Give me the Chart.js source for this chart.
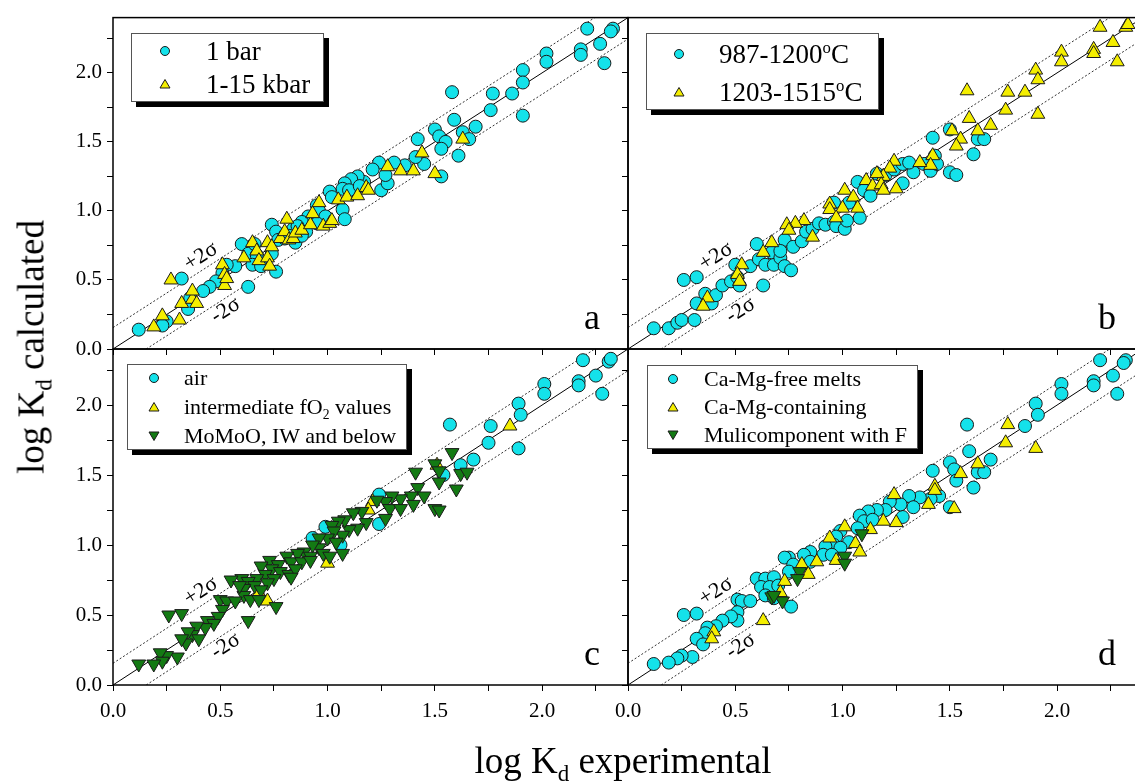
<!DOCTYPE html>
<html>
<head>
<meta charset="utf-8">
<script src="https://cdn.jsdelivr.net/npm/chart.js@4.4.1/dist/chart.umd.min.js"></script>
<style>
html, body { margin: 0; padding: 0; background: #fff; overflow: hidden; width: 1135px; height: 783px; }
#wrap { position: relative; width: 1160px; height: 783px; font-family: 'Liberation Serif', 'Times New Roman', serif; color: #000; }
canvas { position: absolute; left: 0; top: 0; }
.legend { position: absolute; background: #fff; border: 1px solid #555; box-shadow: 5px 5px 0 #000; }
.legend .row { position: absolute; white-space: nowrap; line-height: 30px; height: 30px; }
.legend svg { position: absolute; }
.title { position: absolute; white-space: nowrap; font-size: 37px; line-height: 37px; }
sub, sup { font-size: 62%; line-height: 0; }
</style>
</head>
<body>
<div id="wrap">
  <canvas id="pa" width="1160" height="783"></canvas>
  <canvas id="pb" width="1160" height="783"></canvas>
  <canvas id="pc" width="1160" height="783"></canvas>
  <canvas id="pd" width="1160" height="783"></canvas>
  <div class="title" id="ytitle" style="left:31px; top:347px; transform: translate(-50%,-50%) rotate(-90deg);">log K<sub>d</sub> calculated</div>
  <div class="title" id="xtitle" style="left:623px; top:742px; transform: translateX(-50%);">log K<sub>d</sub> experimental</div>
</div>
<script>
// panel a: pressure
const aBar1 = [[2.21,2.32],[2.33,2.32],[2.32,2.30],[2.27,2.21],[2.18,2.17],[2.18,2.13],[2.29,2.07],[2.02,2.14],[2.02,2.08],[1.91,2.02],[1.91,1.93],[1.86,1.85],[1.91,1.69],[1.58,1.86],[1.77,1.85],[1.76,1.73],[1.59,1.66],[1.69,1.61],[1.63,1.57],[1.66,1.52],[1.61,1.40],[1.50,1.59],[1.52,1.54],[1.55,1.50],[1.53,1.45],[1.42,1.52],[1.53,1.25],[1.45,1.34],[1.41,1.39],[1.36,1.33],[1.31,1.35],[1.24,1.35],[1.21,1.30],[1.25,1.15],[1.28,1.20],[1.27,1.26],[1.17,1.21],[1.14,1.25],[1.11,1.23],[1.08,1.20],[1.07,1.16],[1.10,1.15],[1.15,1.18],[1.01,1.14],[1.02,1.10],[0.95,1.04],[0.96,1.00],[0.99,0.96],[1.07,1.01],[1.08,0.94],[0.91,0.96],[0.88,0.92],[0.95,0.91],[0.74,0.90],[0.76,0.85],[0.77,0.79],[0.74,0.69],[0.76,0.56],[0.60,0.76],[0.63,0.69],[0.66,0.76],[0.67,0.68],[0.65,0.61],[0.69,0.60],[0.63,0.45],[0.57,0.60],[0.53,0.61],[0.51,0.55],[0.48,0.49],[0.45,0.45],[0.42,0.42],[0.36,0.37],[0.35,0.29],[0.32,0.51],[0.25,0.20],[0.23,0.17],[0.12,0.14],[0.84,0.87],[0.86,0.89],[0.82,0.82],[0.90,0.85],[0.80,0.80],[0.85,0.77],[0.88,0.82]];
const aKbar = [[0.27,0.50],[0.19,0.16],[0.23,0.24],[0.31,0.21],[0.32,0.33],[0.37,0.36],[0.37,0.42],[0.39,0.33],[0.51,0.61],[0.52,0.54],[0.52,0.46],[0.53,0.51],[0.61,0.66],[0.65,0.77],[0.67,0.71],[0.68,0.64],[0.72,0.66],[0.72,0.77],[0.73,0.60],[0.74,0.74],[0.78,0.80],[0.80,0.85],[0.81,0.94],[0.82,0.79],[0.84,0.80],[0.85,0.84],[0.88,0.86],[0.92,0.90],[0.93,0.98],[0.96,1.06],[0.98,0.89],[1.01,0.91],[1.02,0.93],[1.05,1.08],[1.09,1.10],[1.14,1.11],[1.18,1.17],[1.19,1.15],[1.28,1.32],[1.34,1.29],[1.40,1.29],[1.44,1.42],[1.50,1.27],[1.63,1.52]];

// panel b: temperature
const bLowT = [[0.12,0.15],[0.19,0.15],[0.23,0.19],[0.25,0.21],[0.31,0.21],[0.26,0.50],[0.32,0.52],[0.32,0.33],[0.36,0.40],[0.39,0.33],[0.41,0.39],[0.44,0.46],[0.48,0.49],[0.51,0.52],[0.52,0.46],[0.50,0.61],[0.57,0.60],[0.63,0.46],[0.60,0.76],[0.61,0.65],[0.64,0.61],[0.68,0.61],[0.67,0.70],[0.71,0.66],[0.73,0.60],[0.76,0.57],[0.73,0.79],[0.71,0.71],[0.77,0.74],[0.81,0.78],[0.83,0.85],[0.86,0.87],[0.89,0.91],[0.92,0.90],[0.96,0.92],[0.97,0.89],[1.01,0.87],[1.02,0.93],[0.96,1.06],[1.03,1.06],[1.08,0.95],[1.07,1.21],[1.10,1.15],[1.13,1.11],[1.16,1.27],[1.20,1.26],[1.24,1.30],[1.28,1.34],[1.28,1.20],[1.33,1.28],[1.31,1.35],[1.38,1.34],[1.41,1.29],[1.43,1.40],[1.44,1.34],[1.42,1.53],[1.50,1.59],[1.50,1.28],[1.53,1.26],[1.61,1.41],[1.63,1.52],[1.66,1.52]];
const bHighT = [[2.20,2.33],[2.32,2.33],[2.33,2.35],[2.26,2.22],[2.17,2.17],[2.17,2.14],[2.28,2.08],[2.02,2.15],[2.02,2.08],[1.90,2.02],[1.91,1.95],[1.85,1.86],[1.77,1.86],[1.76,1.73],[1.91,1.70],[1.58,1.87],[1.59,1.67],[1.69,1.62],[1.63,1.58],[1.51,1.58],[1.55,1.52],[1.53,1.47],[1.42,1.40],[1.41,1.33],[1.36,1.35],[1.24,1.36],[1.22,1.31],[1.19,1.25],[1.16,1.27],[1.11,1.22],[1.14,1.18],[1.18,1.19],[1.19,1.15],[1.25,1.16],[1.01,1.15],[1.05,1.10],[1.07,1.02],[1.00,1.02],[0.94,1.05],[0.94,1.01],[0.97,0.95],[0.82,0.93],[0.78,0.91],[0.74,0.90],[0.75,0.86],[0.86,0.81],[0.67,0.77],[0.63,0.70],[0.53,0.61],[0.51,0.54],[0.52,0.49],[0.37,0.37],[0.35,0.31]];

// panel c: oxygen fugacity
const cAir = [[2.19,2.32],[2.31,2.31],[2.32,2.33],[2.25,2.21],[2.17,2.17],[2.17,2.14],[2.28,2.08],[2.01,2.15],[2.01,2.08],[1.89,2.01],[1.90,1.93],[1.76,1.85],[1.75,1.73],[1.89,1.69],[1.57,1.86],[1.68,1.61],[1.62,1.57],[1.54,1.50],[1.24,1.36],[1.24,1.15],[0.99,1.13],[1.06,1.00],[0.93,1.05]];
const cInter = [[1.85,1.85],[1.21,1.31],[1.19,1.25],[1.00,0.87],[0.72,0.60],[0.68,0.66],[1.51,1.57]];
const cReduced = [[1.58,1.66],[1.50,1.58],[1.52,1.53],[1.41,1.52],[1.62,1.51],[1.65,1.52],[1.52,1.45],[1.60,1.40],[1.42,1.41],[1.45,1.35],[1.39,1.35],[1.40,1.29],[1.34,1.33],[1.30,1.35],[1.27,1.31],[1.29,1.26],[1.34,1.26],[1.50,1.26],[1.52,1.25],[1.27,1.19],[1.23,1.32],[1.16,1.24],[1.12,1.23],[1.18,1.16],[1.14,1.12],[1.10,1.11],[1.08,1.18],[1.05,1.17],[1.07,1.07],[1.02,1.14],[1.03,1.10],[1.00,1.05],[1.04,1.02],[0.96,1.05],[0.96,0.98],[0.93,1.00],[0.89,0.95],[0.92,0.92],[0.98,0.94],[1.01,0.92],[1.07,0.94],[0.86,0.94],[0.81,0.92],[0.83,0.88],[0.88,0.88],[0.92,0.89],[0.73,0.89],[0.77,0.86],[0.74,0.83],[0.78,0.81],[0.82,0.79],[0.85,0.83],[0.69,0.85],[0.71,0.79],[0.67,0.76],[0.75,0.76],[0.83,0.77],[0.60,0.76],[0.63,0.74],[0.66,0.71],[0.72,0.73],[0.69,0.68],[0.61,0.69],[0.61,0.64],[0.64,0.61],[0.68,0.61],[0.76,0.56],[0.50,0.61],[0.53,0.60],[0.57,0.60],[0.51,0.54],[0.49,0.49],[0.44,0.46],[0.47,0.44],[0.63,0.46],[0.43,0.41],[0.39,0.42],[0.37,0.36],[0.40,0.33],[0.35,0.38],[0.34,0.30],[0.32,0.33],[0.26,0.50],[0.32,0.51],[0.30,0.20],[0.25,0.21],[0.22,0.23],[0.23,0.17],[0.19,0.15],[0.12,0.15],[0.55,0.75],[0.59,0.71]];

// panel d: melt composition
const dFree = [[2.20,2.32],[2.32,2.32],[2.31,2.30],[2.26,2.21],[2.17,2.17],[2.17,2.14],[2.28,2.08],[2.02,2.15],[2.02,2.08],[1.90,2.01],[1.91,1.93],[1.85,1.85],[1.58,1.86],[1.59,1.67],[1.69,1.61],[1.63,1.52],[1.66,1.52],[1.61,1.41],[1.50,1.59],[1.52,1.54],[1.53,1.46],[1.42,1.53],[1.50,1.27],[1.45,1.35],[1.41,1.33],[1.36,1.34],[1.31,1.35],[1.33,1.27],[1.28,1.20],[1.27,1.29],[1.22,1.31],[1.20,1.25],[1.16,1.25],[1.12,1.24],[1.08,1.21],[1.10,1.17],[1.14,1.18],[1.07,1.12],[0.99,1.10],[1.03,1.02],[0.97,1.06],[0.96,1.00],[0.92,0.99],[0.91,0.93],[0.99,0.98],[0.95,0.93],[0.85,0.95],[0.82,0.93],[0.75,0.91],[0.73,0.91],[0.77,0.86],[0.75,0.81],[0.85,0.88],[0.60,0.76],[0.64,0.76],[0.68,0.77],[0.62,0.70],[0.66,0.70],[0.70,0.71],[0.64,0.64],[0.68,0.62],[0.76,0.56],[0.51,0.61],[0.53,0.60],[0.57,0.60],[0.51,0.52],[0.51,0.46],[0.48,0.49],[0.44,0.46],[0.41,0.42],[0.37,0.41],[0.36,0.37],[0.32,0.33],[0.35,0.29],[0.26,0.50],[0.32,0.51],[0.30,0.20],[0.25,0.21],[0.23,0.19],[0.19,0.16],[0.12,0.15]];
const dCaMg = [[1.77,1.86],[1.76,1.73],[1.90,1.69],[1.63,1.58],[1.55,1.51],[1.43,1.42],[1.43,1.39],[1.40,1.29],[1.52,1.26],[1.24,1.36],[1.25,1.16],[1.19,1.17],[1.13,1.11],[1.01,1.13],[0.94,1.05],[1.06,1.01],[1.08,0.95],[0.97,0.89],[0.88,0.88],[0.81,0.86],[0.84,0.79],[0.73,0.74],[0.71,0.66],[0.63,0.46],[0.40,0.38],[0.39,0.33]];
const dMultiF = [[1.09,1.08],[1.01,0.92],[1.01,0.87],[0.80,0.81],[0.79,0.76],[0.67,0.63],[0.72,0.60],[0.68,0.64]];

// axes and reference lines
const axisMax = 2.4;
const tickStep = 0.25;
const twoSigma = 0.155;
const sigmaLabels = [{text: '+2σ', x: 0.41, y: 0.67}, {text: '-2σ', x: 0.525, y: 0.28}];

const CYAN = '#14e2ea', YELLOW = '#f4ee00', GREEN = '#137a13', EDGE = '#1a1a1a';
const W = 1160, H = 783, YW = 60, XH = 45;

function toXY(arr) { return arr.map(p => ({x: p[0], y: p[1]})); }

function refLines() {
  const s = twoSigma, m = axisMax;
  const base = {type: 'scatter', showLine: true, pointRadius: 0, borderWidth: 1, order: 10, fill: false};
  return [
    Object.assign({}, base, {data: [{x: 0, y: 0}, {x: m, y: m}], borderColor: '#000'}),
    Object.assign({}, base, {data: [{x: 0, y: s}, {x: m - s, y: m}], borderColor: '#333', borderDash: [2, 2]}),
    Object.assign({}, base, {data: [{x: s, y: 0}, {x: m, y: m - s}], borderColor: '#333', borderDash: [2, 2]})
  ];
}

function series(arr, kind) {
  const st = {
    circle: {pointStyle: 'circle', pointRadius: 6.5, pointRotation: 0, backgroundColor: CYAN, order: 3},
    up: {pointStyle: 'triangle', pointRadius: 8, pointRotation: 0, backgroundColor: YELLOW, order: 2},
    down: {pointStyle: 'triangle', pointRadius: 8, pointRotation: 180, backgroundColor: GREEN, order: 1}
  }[kind];
  return Object.assign({type: 'scatter', data: toXY(arr), borderColor: EDGE, borderWidth: 1, pointHoverRadius: st.pointRadius}, st);
}

const panelDecor = {
  id: 'panelDecor',
  afterDatasetsDraw(chart, args, o) {
    const {ctx, chartArea: a} = chart;
    const x = chart.scales.x, y = chart.scales.y;
    ctx.save();
    ctx.strokeStyle = '#000';
    ctx.lineWidth = 1.5;
    ctx.strokeRect(a.left, a.top, a.right - a.left, a.bottom - a.top);
    const ang = Math.atan2(y.getPixelForValue(0) - y.getPixelForValue(1), x.getPixelForValue(1) - x.getPixelForValue(0));
    ctx.fillStyle = '#000';
    ctx.font = '22px "Liberation Serif"';
    ctx.textAlign = 'center';
    ctx.textBaseline = 'middle';
    sigmaLabels.forEach(l => {
      ctx.save();
      ctx.translate(x.getPixelForValue(l.x), y.getPixelForValue(l.y));
      ctx.rotate(-ang);
      ctx.fillText(l.text, 0, 0);
      ctx.restore();
    });
    ctx.font = '36px "Liberation Serif"';
    ctx.textBaseline = 'alphabetic';
    ctx.fillText(o.letter, a.right - 36, a.bottom - 20);
    ctx.restore();
  }
};

function labelCb(show) {
  return function(v) {
    if (!show) return '';
    return Math.abs(v * 2 - Math.round(v * 2)) < 1e-6 ? v.toFixed(1) : '';
  };
}

function axis(showLabels, isX) {
  return {
    type: 'linear', min: 0, max: axisMax,
    grid: {drawOnChartArea: false, drawTicks: true, tickLength: 6, color: '#000', lineWidth: 1},
    border: {display: false},
    ticks: {stepSize: tickStep, includeBounds: false, autoSkip: false, maxRotation: 0, color: '#000',
      padding: isX ? 8 : 5, font: {family: 'Liberation Serif', size: 21}, callback: labelCb(showLabels)},
    afterFit(s) { if (isX) s.height = XH; else s.width = YW; }
  };
}

function makePanel(id, area, datasets, letter, showX, showY) {
  new Chart(document.getElementById(id), {
    type: 'scatter',
    data: {datasets: refLines().concat(datasets)},
    options: {
      responsive: false, animation: false, events: [],
      layout: {autoPadding: false, padding: {left: area.left - YW, top: area.top, right: W - area.right, bottom: H - area.bottom - XH}},
      plugins: {legend: {display: false}, tooltip: {enabled: false}, panelDecor: {letter: letter}},
      scales: {x: axis(showX, true), y: axis(showY, false)}
    },
    plugins: [panelDecor]
  });
}

const L = 113, M = 628, R = 1143, T = 13, MID = 349, B = 685;
makePanel('pa', {left: L, right: M, top: T, bottom: MID}, [series(aBar1, 'circle'), series(aKbar, 'up')], 'a', false, true);
makePanel('pb', {left: M, right: R, top: T, bottom: MID}, [series(bLowT, 'circle'), series(bHighT, 'up')], 'b', false, false);
makePanel('pc', {left: L, right: M, top: MID, bottom: B}, [series(cAir, 'circle'), series(cInter, 'up'), series(cReduced, 'down')], 'c', true, true);
makePanel('pd', {left: M, right: R, top: MID, bottom: B}, [series(dFree, 'circle'), series(dCaMg, 'up'), series(dMultiF, 'down')], 'd', true, false);

// legends (HTML text with small svg markers)
const legendDefs = [
  {box: [131, 33, 191, 67], font: 27, mx: 33, tx: 74, rows: [[17, 'circle', '1 bar'], [50, 'up', '1-15 kbar']]},
  {box: [646, 33, 231, 75], font: 27, mx: 32, tx: 72, rows: [[20, 'circle', '987-1200<sup>o</sup>C'], [58, 'up', '1203-1515<sup>o</sup>C']]},
  {box: [127, 364, 278, 84], font: 22, mx: 26, tx: 56, rows: [[13, 'circle', 'air'], [42, 'up', 'intermediate fO<sub>2</sub> values'], [71, 'down', 'MoMoO, IW and below']]},
  {box: [647, 365, 269, 82], font: 22, mx: 25, tx: 56, rows: [[13, 'circle', 'Ca-Mg-free melts'], [41, 'up', 'Ca-Mg-containing'], [69, 'down', 'Mulicomponent with F']]}
];
function markerSvg(kind) {
  if (kind === 'circle') return '<circle cx="6" cy="6" r="4.5" fill="' + CYAN + '" stroke="' + EDGE + '" stroke-width="1"/>';
  if (kind === 'up') return '<polygon points="6,1.5 11,10 1,10" fill="' + YELLOW + '" stroke="' + EDGE + '" stroke-width="1"/>';
  return '<polygon points="1,2 11,2 6,10.5" fill="' + GREEN + '" stroke="' + EDGE + '" stroke-width="1"/>';
}
const wrap = document.getElementById('wrap');
legendDefs.forEach(d => {
  const box = document.createElement('div');
  box.className = 'legend';
  box.style.cssText = 'left:' + d.box[0] + 'px;top:' + d.box[1] + 'px;width:' + d.box[2] + 'px;height:' + d.box[3] + 'px;font-size:' + d.font + 'px;';
  d.rows.forEach(r => {
    const svg = '<svg width="12" height="12" style="left:' + (d.mx - 6) + 'px;top:' + (r[0] - 6) + 'px">' + markerSvg(r[1]) + '</svg>';
    box.insertAdjacentHTML('beforeend', svg + '<div class="row" style="left:' + d.tx + 'px;top:' + (r[0] - 15) + 'px">' + r[2] + '</div>');
  });
  wrap.appendChild(box);
});
</script>
</body>
</html>
